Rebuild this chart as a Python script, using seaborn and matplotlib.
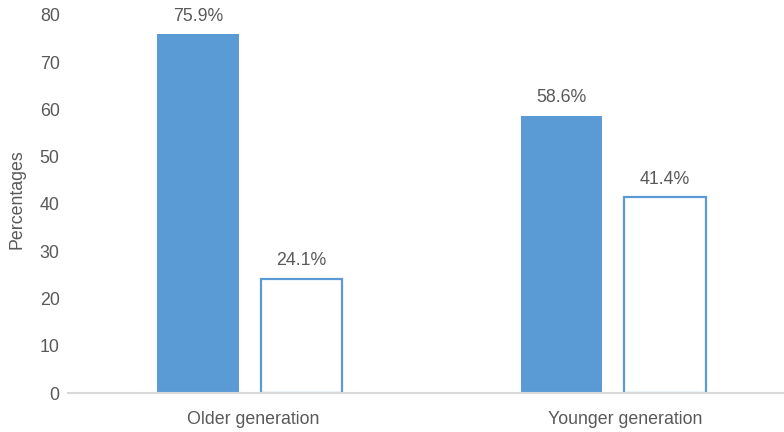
import matplotlib
matplotlib.use("Agg")
import matplotlib.pyplot as plt
from matplotlib.transforms import ScaledTranslation
import seaborn as sns
import pandas as pd

groups = ["Older generation", "Younger generation"]
series = ["Yes", "No"]
values_yes = [75.9, 58.6]
values_no = [24.1, 41.4]
yticks = [0, 10, 20, 30, 40, 50, 60, 70, 80]

blue = "#5b9bd5"
text_gray = "#595959"
fs = 12.8

df = pd.DataFrame({
    "group": groups * 2,
    "series": [series[0]] * 2 + [series[1]] * 2,
    "value": values_yes + values_no,
})

sns.set_theme(style="white")
plt.rcParams["font.family"] = ["Liberation Sans", "DejaVu Sans"]

fig = plt.figure(figsize=(7.84, 4.32), dpi=100)
ax = fig.add_axes([68 / 784, 39 / 432, 727 / 784, 378 / 432])

sns.barplot(data=df, x="group", y="value", hue="series", order=groups,
            hue_order=series, palette=[blue, blue], width=0.569, gap=0.208,
            legend=False, ax=ax, saturation=1)

# second series drawn as hollow outlined bars
for i, container in enumerate(ax.containers):
    for bar in container:
        if i == 1:
            bar.set_facecolor("white")
            bar.set_edgecolor(blue)
            bar.set_linewidth(1.6)
        else:
            bar.set_edgecolor("none")
    vals = values_yes if i == 0 else values_no
    for bar, v in zip(container, vals):
        ax.annotate(f"{v:.1f}%", (bar.get_x() + bar.get_width() / 2, v),
                    xytext=(0, 7), textcoords="offset points",
                    ha="center", va="bottom", fontsize=fs, color=text_gray)

ax.set_ylim(0, 80)
ax.set_xlim(-0.5, 1.5)
ax.set_yticks(yticks)
ax.tick_params(axis="y", length=0, pad=6, labelsize=fs, labelcolor=text_gray)
ax.tick_params(axis="x", length=0, pad=13, labelsize=fs, labelcolor=text_gray)
ax.set_xlabel("")
ax.set_ylabel("Percentages", fontsize=fs, color=text_gray)
ax.yaxis.set_label_coords(-0.059, 0.512)

# category labels sit slightly right of the bar groups
for lbl, dx in zip(ax.get_xticklabels(), [3, 12]):
    lbl.set_transform(lbl.get_transform() + ScaledTranslation(dx / 100, 0, fig.dpi_scale_trans))

for side in ["left", "right", "top"]:
    ax.spines[side].set_visible(False)
ax.spines["bottom"].set_color("#d9d9d9")
ax.spines["bottom"].set_linewidth(1.5)
ax.grid(False)

fig.savefig("out.png", dpi=100)
